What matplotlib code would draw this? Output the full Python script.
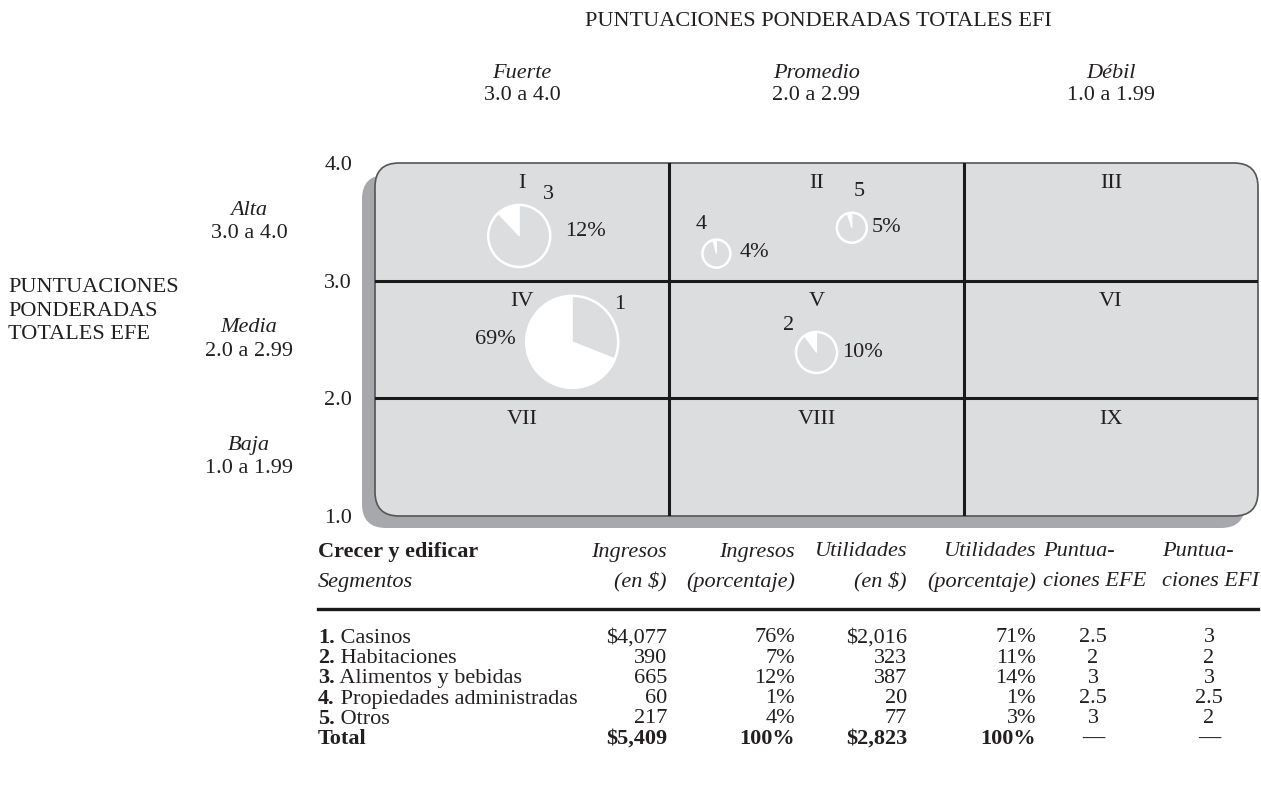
import matplotlib
matplotlib.use("Agg")
import matplotlib.pyplot as plt
from matplotlib.patches import FancyBboxPatch, Wedge, Circle
from matplotlib.lines import Line2D
from matplotlib.transforms import ScaledTranslation

# segment table
segments = ["Casinos", "Habitaciones", "Alimentos y bebidas",
            "Propiedades administradas", "Otros"]
ingresos = [4077, 390, 665, 60, 217]
ingresos_pct = [76, 7, 12, 1, 4]
utilidades = [2016, 323, 387, 20, 77]
utilidades_pct = [71, 11, 14, 1, 3]
efe_scores = [2.5, 2, 3, 2.5, 3]
efi_scores = [3, 2, 3, 2.5, 2]

# pies as placed on the IE matrix (EFI on x, EFE on y) and their labels
pie_efi = [3.33, 2.50, 3.51, 2.84, 2.38]
pie_efe = [2.48, 2.39, 3.38, 3.23, 3.45]
pie_pct = [69, 10, 12, 4, 5]

roman = ["I", "II", "III", "IV", "V", "VI", "VII", "VIII", "IX"]
col_names = [("Fuerte", "3.0 a 4.0"), ("Promedio", "2.0 a 2.99"), ("Débil", "1.0 a 1.99")]
row_names = [("Alta", "3.0 a 4.0"), ("Media", "2.0 a 2.99"), ("Baja", "1.0 a 1.99")]

plt.rcParams["font.family"] = "Liberation Serif"
FS = 16
INK = "#231f20"

W, H = 1261, 795
fig = plt.figure(figsize=(W / 100, H / 100), dpi=100)
fig.patch.set_facecolor("white")


def T(x, y, s, **kw):
    kw.setdefault("fontsize", FS)
    kw.setdefault("color", INK)
    kw.setdefault("va", "center")
    return fig.text(x / W, 1 - y / H, s, **kw)


# matrix axes: x = EFI (4 -> 1), y = EFE (1 -> 4)
ax = fig.add_axes([375 / W, 1 - 516 / H, 883 / W, 353 / H])
ax.patch.set_visible(False)
for s in ax.spines.values():
    s.set_visible(False)

# rounded box + shadow (in inches)
bx, by, bw, bh = 3.75, (H - 516) / 100, 8.83, 3.53
shadow = FancyBboxPatch((bx - 0.13, by - 0.12), bw, bh,
                        boxstyle="round,pad=0,rounding_size=0.24",
                        transform=fig.dpi_scale_trans, fc="#a7a8ab", ec="none", zorder=-2)
box = FancyBboxPatch((bx, by), bw, bh, boxstyle="round,pad=0,rounding_size=0.24",
                     transform=fig.dpi_scale_trans, fc="#dcdddf", ec="#555555",
                     lw=1.2, zorder=-1)
fig.add_artist(shadow)
fig.add_artist(box)

for v in (3, 2):
    ax.axvline(v, color="#1a1a1a", lw=2.2)
    ax.axhline(v, color="#1a1a1a", lw=2.2)

# roman numerals, top of each cell
for k, name in enumerate(roman):
    r, c = divmod(k, 3)
    ax.annotate(name, xy=(3.5 - c, 4 - r), xytext=(0, -21), textcoords="offset pixels",
                ha="center", va="center", fontsize=FS, color=INK)

# pies
pie_r = [46, 20.5, 31, 14, 15]
num_off = [(47, 37), (-28, 27), (29, 41), (-15, 29), (7, 36)]
pct_off = [(-56, 2, "right"), (26, 0, "left"), (46, 4, "left"), (23, 1, "left"), (20, 0, "left")]
for i in range(len(pie_pct)):
    tr = fig.dpi_scale_trans + ScaledTranslation(pie_efi[i], pie_efe[i], ax.transData)
    rad = pie_r[i] / 100
    ax.add_patch(Wedge((0, 0), rad, 90, 90 + pie_pct[i] * 3.6, fc="white", ec="white",
                       lw=0.8, transform=tr))
    ax.add_patch(Circle((0, 0), rad, fc="none", ec="white", lw=1.8, transform=tr))
    ax.annotate(str(i + 1), xy=(pie_efi[i], pie_efe[i]), xytext=num_off[i],
                textcoords="offset pixels", ha="center", va="center", fontsize=FS, color=INK)
    dx, dy, ha = pct_off[i]
    ax.annotate(f"{pie_pct[i]}%", xy=(pie_efi[i], pie_efe[i]), xytext=(dx, dy),
                textcoords="offset pixels", ha=ha, va="center", fontsize=FS, color=INK)

ax.set_xlim(4, 1)
ax.set_ylim(1, 4)
ax.set_xticks([])
ax.set_yticks([1, 2, 3, 4], ["1.0", "2.0", "3.0", "4.0"], fontsize=FS, color=INK)
ax.tick_params(axis="y", length=0, pad=16.5)

# axis titles
T(818, 21, "PUNTUACIONES PONDERADAS TOTALES EFI", ha="center")
for c, (a, b) in enumerate(col_names):
    ax.annotate(a, xy=(3.5 - c, 1 - 73 / H), xycoords=("data", "figure fraction"),
                ha="center", va="center", fontsize=FS, color=INK, style="italic",
                annotation_clip=False)
    ax.annotate(b, xy=(3.5 - c, 1 - 96 / H), xycoords=("data", "figure fraction"),
                ha="center", va="center", fontsize=FS, color=INK, annotation_clip=False)

T(8, 311, "PUNTUACIONES\nPONDERADAS\nTOTALES EFE", ha="left", linespacing=1.32)
for r, (a, b) in enumerate(row_names):
    ax.annotate(a, xy=(249 / W, 3.5 - r), xycoords=("figure fraction", "data"),
                xytext=(0, 11.5), textcoords="offset pixels", annotation_clip=False,
                ha="center", va="center", fontsize=FS, color=INK, style="italic")
    ax.annotate(b, xy=(249 / W, 3.5 - r), xycoords=("figure fraction", "data"),
                xytext=(0, -11.5), textcoords="offset pixels", annotation_clip=False,
                ha="center", va="center", fontsize=FS, color=INK)

# table
T(318, 552, "Crecer y edificar", ha="left", weight="bold")
T(318, 582, "Segmentos", ha="left", style="italic")
heads = [("Ingresos", "(en $)", 667, "right"), ("Ingresos", "(porcentaje)", 795, "right"),
         ("Utilidades", "(en $)", 907, "right"), ("Utilidades", "(porcentaje)", 1036, "right"),
         ("Puntua-", "ciones EFE", 1043, "left"), ("Puntua-", "ciones EFI", 1162, "left")]
for a, b, x, ha in heads:
    T(x, 552, a, ha=ha, style="italic")
    T(x, 582, b, ha=ha, style="italic")
fig.add_artist(Line2D([318 / W, 1258 / W], [1 - 609 / H] * 2, lw=2.4, color="#1a1a1a"))

col_x = [667, 795, 907, 1036, 1093, 1209]
row_y = [638 + 20.2 * i for i in range(len(segments) + 1)]
for i, seg in enumerate(segments):
    y = row_y[i]
    t = T(318, y, f"{i + 1}.", ha="left", weight="bold")
    fig.add_artist(plt.Annotation(" " + seg, xy=(1, 0), xycoords=t, va="bottom",
                                  ha="left", fontsize=FS, color=INK))
    cells = [f"${ingresos[i]:,}" if i == 0 else f"{ingresos[i]:,}",
             f"{ingresos_pct[i]}%",
             f"${utilidades[i]:,}" if i == 0 else f"{utilidades[i]:,}",
             f"{utilidades_pct[i]}%",
             f"{efe_scores[i]:g}", f"{efi_scores[i]:g}"]
    for j, s in enumerate(cells):
        T(col_x[j], y, s, ha="right" if j < 4 else "center")

y = row_y[-1]
totals = [f"${sum(ingresos):,}", f"{sum(ingresos_pct)}%", f"${sum(utilidades):,}",
          f"{sum(utilidades_pct)}%", "—", "—"]
T(318, y, "Total", ha="left", weight="bold")
for j, s in enumerate(totals):
    T(col_x[j], y, s, ha="right" if j < 4 else "center", weight="bold")

fig.savefig("out.png", dpi=100)
